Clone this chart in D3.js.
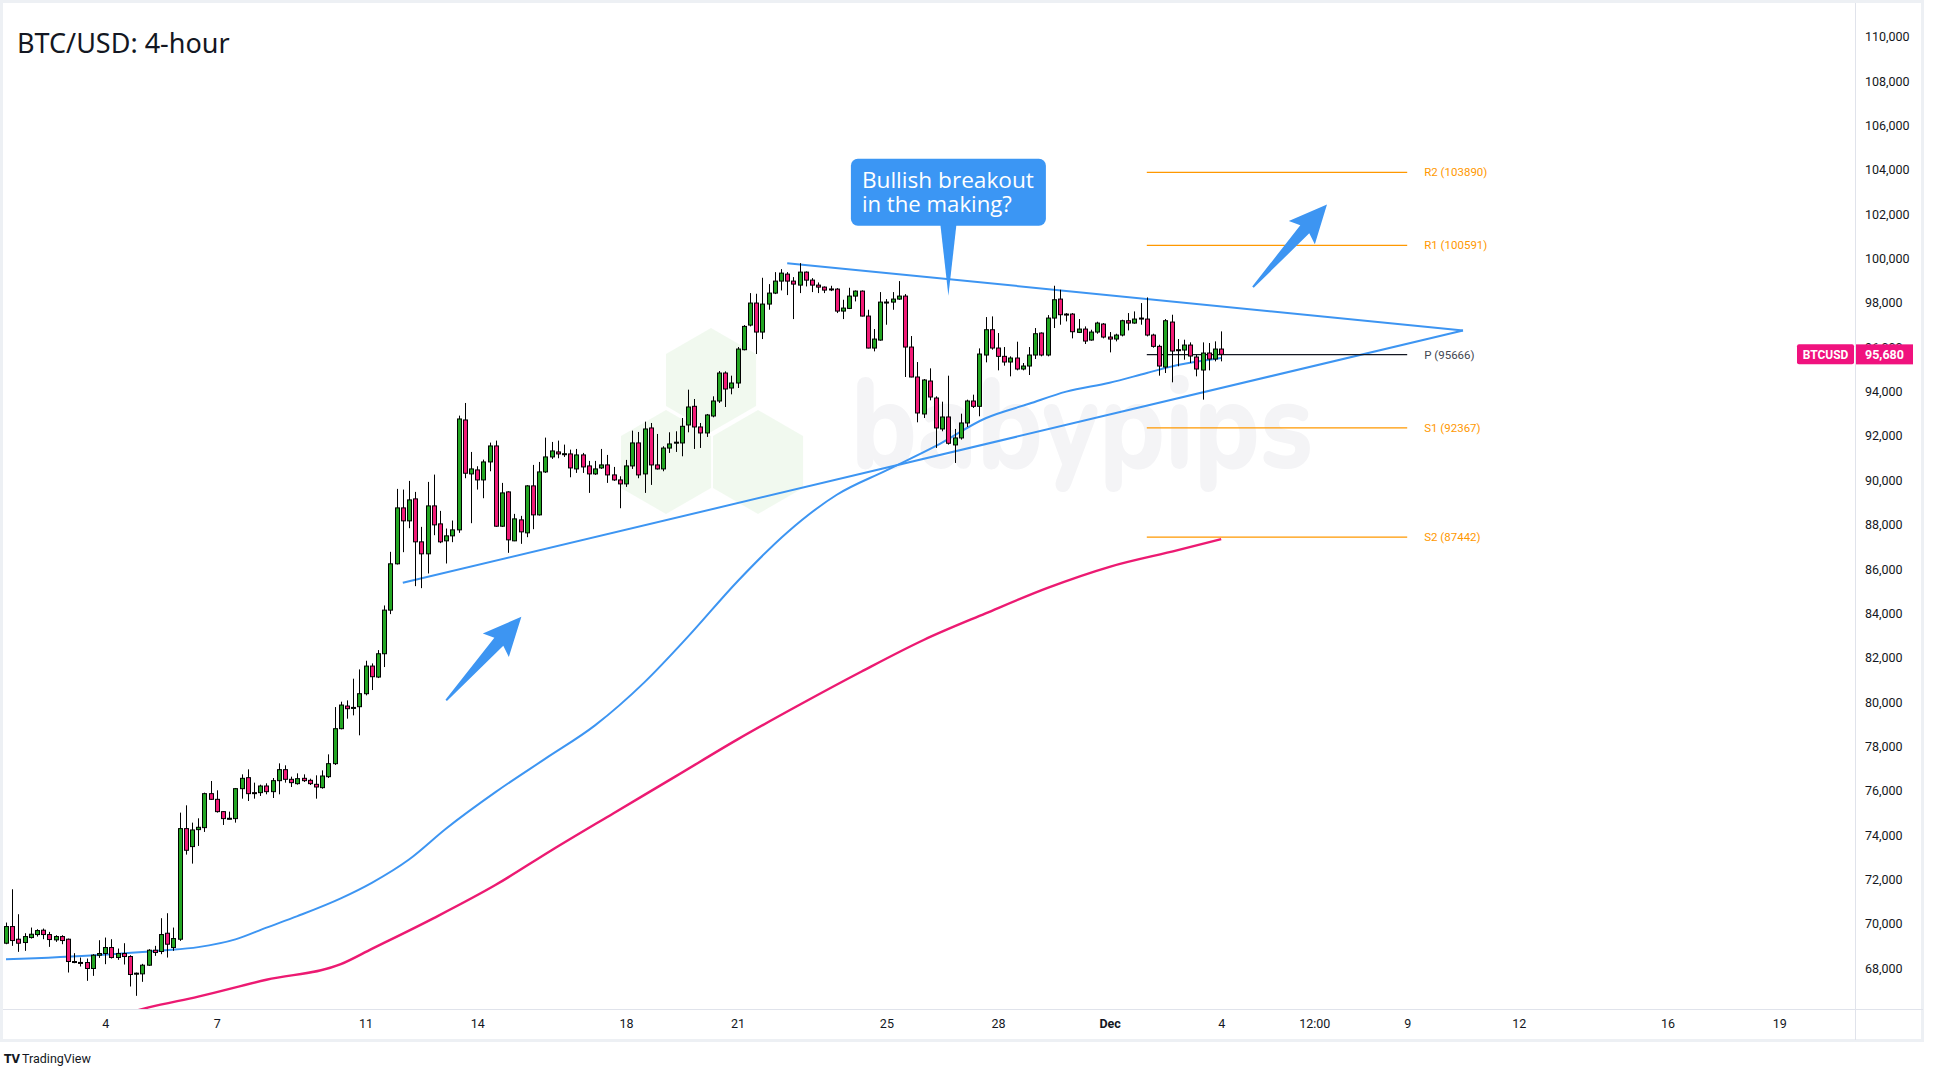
<!DOCTYPE html>
<html><head><meta charset="utf-8">
<script src="https://cdn.jsdelivr.net/npm/d3@7"></script>
<style>html,body{margin:0;padding:0;background:#fff;}svg{display:block;}</style>
</head><body>
<svg id="chart" width="1934" height="1076"></svg>
<script>
// ---------------- DATA ----------------
const title = "BTC/USD: 4-hour";
const firstCandle = "2024-11-01T08:00:00Z";   // 4-hour candles from here
const opens = [69127,69878,69307,69157,69382,69517,69713,69517,69277,69427,69307,68301,68260,68256,67986,68586,68662,68932,68481,68662,68526,67745,67745,68136,68812,68752,69577,68932,69307,74294,73483,74249,74339,75871,75615,75060,74745,74745,76096,76592,75916,75916,76216,75961,76457,76953,76517,76322,76562,76472,76292,76142,76637,77223,78801,79822,79747,79792,80378,81624,81129,82180,84147,86235,88757,88172,89163,87226,86685,88847,88036,87271,87496,87766,92722,90289,90469,90018,90829,91550,87931,89478,87271,88217,87631,89749,88442,90379,91055,91280,91190,91190,90514,91145,90649,90289,90559,90695,90244,90018,89839,90649,91686,90289,92361,90694,90514,91455,91700,91685,92496,93337,92406,92136,92901,93577,94839,94163,94388,95890,97001,97994,96686,97948,98443,98984,99299,98984,98803,99389,99028,98803,98713,98630,98623,97632,97752,98308,98533,97407,95965,96325,98030,98037,98173,98308,96010,94659,92992,94478,93712,92316,92857,91596,91911,92586,93577,93337,95650,96791,95965,95590,95335,95515,95019,95154,95650,96641,95650,97317,98173,97497,97497,96671,96821,96326,96686,97047,96461,96371,96551,97197,97092,97317,97272,96551,96041,95109,97137,95875,95875,96100,95560,94974,95740,95470,95920];
const highs = [70058,71560,70434,69578,69833,69758,69788,69638,69487,69487,69337,68677,68481,68436,68632,69262,69382,69307,68887,69127,68586,67805,68196,68857,69007,70254,70479,69833,75015,75345,74564,74759,75916,76442,76021,75075,75060,76126,76742,76967,76367,76276,76337,76577,77238,77148,76637,76787,76742,76547,76697,76922,77643,79776,80018,80077,81054,81474,81864,81744,82345,84357,86775,89613,89583,89974,89478,87901,89929,90259,88622,87826,88187,92917,93488,91280,90635,90935,91701,91791,89884,89508,88487,88397,89779,90695,90829,91926,91731,91791,91611,91385,91415,91235,90875,90875,91415,91145,90604,90184,90920,92241,92181,92646,92586,92091,91535,92166,92211,92811,94088,93667,92586,92992,93788,94929,94914,94719,96010,97001,98443,98413,99134,98848,99389,99524,99389,99164,99794,99419,99119,98923,98743,98773,98668,98143,98683,98563,98563,97692,96821,98488,98173,98488,98984,98398,96506,95334,94569,95049,93787,93547,94719,92316,93006,93638,93863,95950,97362,97392,96641,96010,95590,96251,95290,96010,96866,96671,97452,98774,98593,97542,97542,97272,96941,96791,97152,97092,96686,96611,97242,97542,97617,97993,98248,96611,96116,97272,97467,96371,96341,96221,95665,96221,96191,96266,96716];
const lows = [69082,69007,68737,68782,69337,69427,69307,68962,69187,69082,67805,68226,68076,67430,67655,68466,68181,68436,68376,68166,67175,66754,67385,68106,68556,68632,68481,68782,69232,73122,72717,73513,74144,75585,75015,74459,74715,74564,75645,75540,75645,75766,75841,75675,75841,76367,76171,76276,76397,76261,75645,76096,76577,77163,78771,79252,79402,78501,80303,80543,81083,81580,83967,86204,86760,87841,85228,85138,85799,87526,87166,86250,87211,87631,90094,88067,89583,89193,90409,87901,87901,86730,87256,87136,87436,87796,88412,90334,90965,90995,91055,90138,90334,90334,89433,90244,90514,89884,89974,88742,89703,90514,90094,89433,89793,90484,90409,91234,91280,91084,92166,91415,91460,91956,92841,93487,93307,93878,94163,95860,96941,95695,96370,97692,98398,98563,98353,97271,98443,98743,98488,98443,98443,98533,97542,97271,97722,98068,97392,95950,95815,96295,97016,97692,98143,94659,94644,92616,92811,93607,91460,92211,91611,90784,91836,92406,93262,92887,95320,95890,94959,95170,94689,94959,94959,94749,95470,95590,95590,96866,97017,97167,96401,96641,96146,96296,96611,96401,95770,96266,96491,96761,97062,97017,96491,95980,94719,94839,94419,95140,95440,95290,94689,93638,94959,95365,95365];
const closes = [69878,69247,69127,69427,69532,69697,69517,69292,69427,69247,68301,68286,68240,67986,68586,68662,68932,68481,68662,68526,67715,67775,68136,68812,68707,69517,69082,69337,74294,73318,74234,74354,75871,75615,75060,74745,74760,76096,76562,75871,75886,76216,75961,76457,76953,76517,76367,76547,76457,76322,76171,76667,77223,78800,79867,79702,79760,80378,81624,81144,82180,84147,86235,88757,88172,89118,87226,86685,88847,87991,87226,87496,87766,92767,90319,90514,90018,90829,91550,87931,89433,87316,88262,87676,89749,88442,90379,91055,91325,91190,91200,90559,91145,90604,90289,90514,90695,90244,90018,89839,90649,91686,90244,92316,90694,90514,91455,91640,91720,92436,93307,92406,92136,92947,93577,94839,94118,94388,95920,96941,97994,96686,97948,98443,98984,99344,98984,98848,99389,99028,98803,98713,98578,98620,97632,97767,98308,98533,97407,95965,96370,98037,98040,98173,98308,96010,94659,93037,94524,93757,92361,92856,91671,91911,92586,93577,93337,95695,96791,95965,95590,95335,95515,95019,95154,95650,96611,95650,97317,98143,97467,97467,96701,96821,96281,96686,97092,96461,96371,96551,97197,97092,97272,97302,96551,96041,95154,97197,95830,95890,96100,95605,95019,95740,95470,95920,95680];

// moving averages sampled at candle indices
const ma100Idx = [0,15,25,31,37,42,47,54,59,65,71,79,87,95,103,110,118,126,134,142,150,158,165,171,178,184,189,196];
const ma100Val = [68400,68600,68800,68950,69300,69830,70350,71150,71850,72900,74300,75950,77450,78950,80900,82950,85450,87650,89350,90450,91550,92800,93450,94000,94400,94840,95200,95520];
const ma200Idx = [18,23,31,42,54,59,69,79,88,98,108,118,128,138,148,158,168,178,189,196];
const ma200Val = [65850,66230,66720,67480,68180,68870,70260,71760,73320,74990,76650,78320,79880,81380,82800,84000,85150,86100,86850,87350];

// axes
const yTicks = [68000,70000,72000,74000,76000,78000,80000,82000,84000,86000,88000,90000,92000,94000,96000,98000,100000,102000,104000,106000,108000,110000];
const xTickDates = ["2024-11-04T00:00Z","2024-11-07T00:00Z","2024-11-11T00:00Z","2024-11-14T00:00Z","2024-11-18T00:00Z","2024-11-21T00:00Z","2024-11-25T00:00Z","2024-11-28T00:00Z","2024-12-01T00:00Z","2024-12-04T00:00Z","2024-12-06T12:00Z","2024-12-09T00:00Z","2024-12-12T00:00Z","2024-12-16T00:00Z","2024-12-19T00:00Z"];
const xTickLabels = ["4","7","11","14","18","21","25","28","Dec","4","12:00","9","12","16","19"];

// weekly pivots
const pivotNames = ["R2","R1","P","S1","S2"];
const pivotValues = [103890,100591,95666,92367,87442];
const pivotStart = "2024-12-02T00:00Z", pivotEnd = "2024-12-09T00:00Z";

// drawn annotations (time, price)
const trendUpper = [["2024-11-22T08:00Z",99794],["2024-12-10T12:00Z",96760]];
const trendLower = [["2024-11-12T00:00Z",85379],["2024-12-10T12:00Z",96760]];
const arrows = [
  [["2024-11-13T04:00Z",80078],["2024-11-15T04:30Z",83848]],
  [["2024-12-04T20:30Z",98710],["2024-12-06T20:15Z",102436]]
];
const calloutTip = ["2024-11-26T16:00Z",98320];
const calloutLines = ["Bullish breakout","in the making?"];
const symbol = "BTCUSD", lastPrice = 95680;

// ---------------- LAYOUT ----------------
const W = 1934, H = 1076;
const plot = {l:3, r:1855, t:3, b:1009};
const green = "#23a623", pink = "#f21b77", blue = "#3d95f2", orange = "#ff9800";
const svg = d3.select("#chart");

const t0 = new Date(firstCandle).getTime();
const H4 = 4*3600*1000;
const times = closes.map((_, i) => new Date(t0 + i*H4));

const x = d3.scaleTime()
  .domain([new Date(firstCandle), new Date("2024-12-19T00:00:00Z")])
  .range([6, 1779.2]);
const y = d3.scaleLinear().domain([68000,110000]).range([968.2, 36.8]);

// background & frame
svg.append("rect").attr("width",W).attr("height",H).attr("fill","#ffffff");
svg.append("rect").attr("x",1.5).attr("y",1.5).attr("width",1921).attr("height",1039)
  .attr("fill","none").attr("stroke","#edf0f4").attr("stroke-width",3);

const defs = svg.append("defs");
defs.append("clipPath").attr("id","plotClip").append("rect")
  .attr("x",plot.l).attr("y",plot.t).attr("width",plot.r-plot.l).attr("height",plot.b-plot.t);

const g = svg.append("g").attr("clip-path","url(#plotClip)");

// watermark (babypips)
const wm = g.append("g");
const hex = (cx, cy, r) => d3.range(6).map(k => {
  const a = Math.PI/180*(60*k - 90);
  return [cx + r*Math.cos(a), cy + r*Math.sin(a)];
});
[[711,380],[666,462],[758,462]].forEach(([cx,cy]) => {
  wm.append("polygon").attr("points", hex(cx,cy,52).join(" "))
    .attr("fill","#eef7eb").attr("opacity",0.8);
});
wm.append("text").attr("x",851).attr("y",468).text("babypips")
  .attr("font-family","Nunito, 'Noto Sans', sans-serif").attr("font-weight",800)
  .attr("font-size",128).attr("fill","#f4f4f6").attr("textLength",462)
  .attr("lengthAdjust","spacingAndGlyphs");

// moving averages
const line = d3.line().x(d => x(new Date(t0 + d[0]*H4))).y(d => y(d[1])).curve(d3.curveMonotoneX);
g.append("path").datum(ma200Idx.map((d,i)=>[d, ma200Val[i]]))
  .attr("d", line).attr("fill","none").attr("stroke","#ec1a72").attr("stroke-width",2.4);
g.append("path").datum(ma100Idx.map((d,i)=>[d, ma100Val[i]]))
  .attr("d", line).attr("fill","none").attr("stroke",blue).attr("stroke-width",2);

// trendlines
[trendUpper, trendLower].forEach(tl => {
  g.append("line")
    .attr("x1", x(new Date(tl[0][0]))).attr("y1", y(tl[0][1]))
    .attr("x2", x(new Date(tl[1][0]))).attr("y2", y(tl[1][1]))
    .attr("stroke", blue).attr("stroke-width", 2);
});

// pivots
pivotValues.forEach((v, i) => {
  const isP = pivotNames[i] === "P";
  g.append("line").attr("x1", x(new Date(pivotStart))).attr("x2", x(new Date(pivotEnd)))
    .attr("y1", y(v)).attr("y2", y(v))
    .attr("stroke", isP ? "#131722" : orange).attr("stroke-width", 1.2);
  g.append("text").attr("x", x(new Date(pivotEnd)) + 17).attr("y", y(v)).attr("dy","0.35em")
    .attr("font-family","Roboto, sans-serif").attr("font-size",11.5)
    .attr("fill", isP ? "#434651" : orange)
    .text(`${pivotNames[i]} (${v})`);
});

// candles
const bw = 4;
const cg = g.append("g");
closes.forEach((c, i) => {
  const xi = Math.round(x(times[i])) + 0.5;
  const o = opens[i], hi = highs[i], lo = lows[i];
  cg.append("line").attr("x1", xi).attr("x2", xi).attr("y1", y(hi)).attr("y2", y(lo))
    .attr("stroke", "#000").attr("stroke-width", 1);
  const top = y(Math.max(o, c)), bot = y(Math.min(o, c));
  cg.append("rect").attr("x", xi - bw/2).attr("y", top)
    .attr("width", bw).attr("height", Math.max(1, bot - top))
    .attr("fill", c >= o ? green : pink).attr("stroke", "#000").attr("stroke-width", 1);
});

// arrows
arrows.forEach(a => {
  const p0 = [x(new Date(a[0][0])), y(a[0][1])];
  const p1 = [x(new Date(a[1][0])), y(a[1][1])];
  const dx = p1[0]-p0[0], dy = p1[1]-p0[1], L = Math.hypot(dx, dy);
  const u = [dx/L, dy/L], n = [-u[1], u[0]];
  const P = (s, w) => [p0[0] + u[0]*s*L + n[0]*w, p0[1] + u[1]*s*L + n[1]*w];
  const pts = [P(0,-1), P(0.7,-6), P(0.66,-17.5), P(1,0), P(0.66,17.5), P(0.7,6), P(0,1)];
  g.append("polygon").attr("points", pts.join(" ")).attr("fill", blue);
});

// callout
{
  const tx = x(new Date(calloutTip[0])), ty = y(calloutTip[1]);
  const bx = tx - 97.5, by = ty - 137, bwid = 195, bh = 67;
  const cgp = g.append("g");
  cgp.append("path")
    .attr("d", `M${tx-8},${by+bh-1} L${tx},${ty} L${tx+8},${by+bh-1} Z`).attr("fill", "#3b96f4");
  cgp.append("rect").attr("x", bx).attr("y", by).attr("width", bwid).attr("height", bh)
    .attr("rx", 7).attr("fill", "#3b96f4");
  calloutLines.forEach((s, k) => {
    cgp.append("text").attr("x", bx + 11).attr("y", by + 29 + k*24).text(s)
      .attr("font-family","'Open Sans', sans-serif").attr("font-size",21.5)
      .attr("fill","#fff").attr("textLength", k===0 ? 172 : 150).attr("lengthAdjust","spacingAndGlyphs");
  });
}

// axes lines
svg.append("line").attr("x1", plot.l).attr("x2", 1923).attr("y1", plot.b+0.5).attr("y2", plot.b+0.5)
  .attr("stroke","#e0e3eb");
svg.append("line").attr("x1", plot.r+0.5).attr("x2", plot.r+0.5).attr("y1", plot.t).attr("y2", 1040)
  .attr("stroke","#e0e3eb");

// y axis
const yAxis = d3.axisRight(y).tickValues(yTicks).tickSize(0).tickPadding(0)
  .tickFormat(d3.format(","));
const ya = svg.append("g").attr("transform", `translate(${plot.r + 10},0)`).call(yAxis);
ya.select(".domain").remove();
ya.selectAll("text").attr("font-family","Roboto, sans-serif").attr("font-size",12.5).attr("fill","#131722");

// x axis
const xAxis = d3.axisBottom(x).tickValues(xTickDates.map(d => new Date(d)))
  .tickSize(0).tickPadding(0).tickFormat((d, i) => xTickLabels[i]);
const xa = svg.append("g").attr("transform", `translate(0,${plot.b + 10})`).call(xAxis);
xa.select(".domain").remove();
xa.selectAll("text").attr("font-family","Roboto, sans-serif").attr("font-size",12.5).attr("fill","#131722")
  .attr("dy","0.75em").attr("font-weight", (d,i) => xTickLabels[i] === "Dec" ? 700 : 400);

// last price labels
{
  const yy = y(lastPrice);
  svg.append("rect").attr("x", 1797).attr("y", yy - 10).attr("width", 57).attr("height", 20).attr("rx",2).attr("fill", "#f0127e");
  svg.append("text").attr("x", 1825.5).attr("y", yy).attr("dy","0.36em").attr("text-anchor","middle")
    .attr("font-family","Roboto, sans-serif").attr("font-weight",700).attr("font-size",12).attr("fill","#fff").text(symbol);
  svg.append("rect").attr("x", plot.r + 1).attr("y", yy - 10).attr("width", 57).attr("height", 20).attr("fill", "#f0127e");
  svg.append("text").attr("x", plot.r + 29.5).attr("y", yy).attr("dy","0.36em").attr("text-anchor","middle")
    .attr("font-family","Roboto, sans-serif").attr("font-weight",700).attr("font-size",12.5).attr("fill","#fff")
    .text(d3.format(",")(lastPrice));
}

// title
svg.append("text").attr("x", 17).attr("y", 53).text(title)
  .attr("font-family","'Noto Sans', sans-serif").attr("font-size",27).attr("fill","#131722");

// TradingView footer
svg.append("text").attr("x", 4).attr("y", 1063).text("TV")
  .attr("font-family","'DejaVu Sans', sans-serif").attr("font-weight",900).attr("font-size",12).attr("fill","#131722")
  .attr("textLength",16).attr("lengthAdjust","spacingAndGlyphs");
svg.append("text").attr("x", 22).attr("y", 1063).text("TradingView")
  .attr("font-family","Roboto, sans-serif").attr("font-size",12.5).attr("fill","#131722");
</script>
</body></html>
